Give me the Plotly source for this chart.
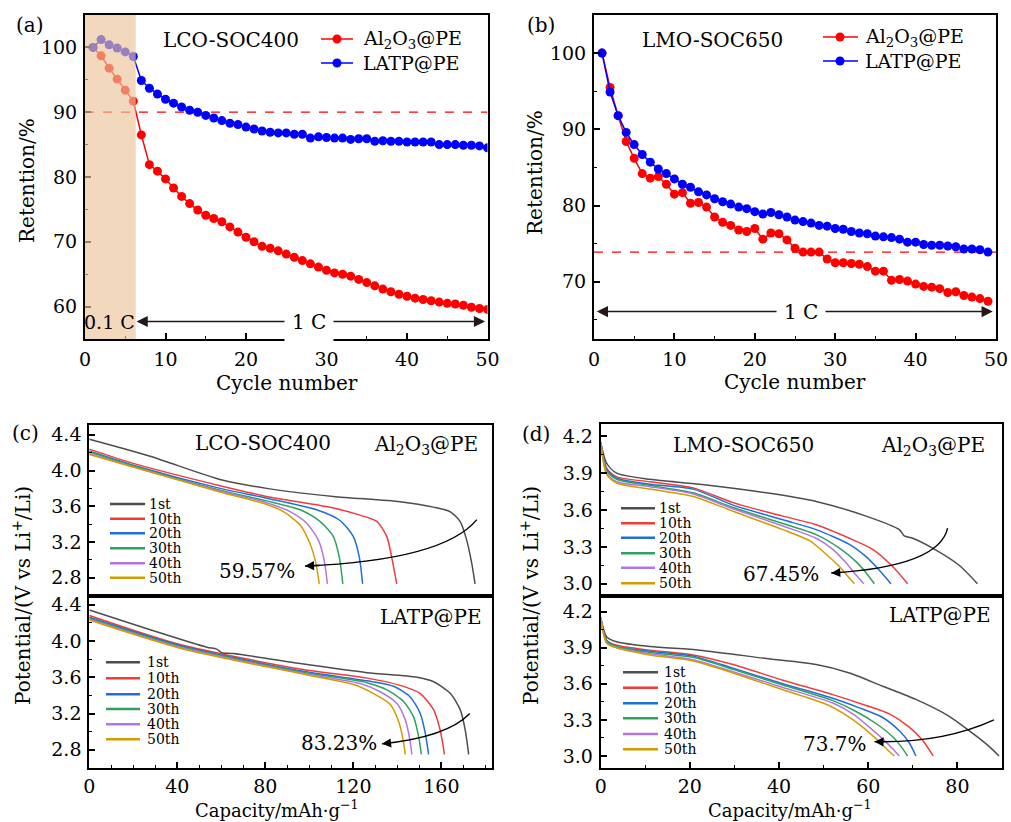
import plotly.graph_objects as go

W, H = 1011, 822
FONT = "DejaVu Serif"

# ---------------- data: panel (a) LCO-SOC400 retention ----------------
cycles_a = list(range(1, 51))
ret_a_al2o3 = [100.0, 98.7, 96.8, 95.1, 93.4, 91.7, 86.5, 81.9, 80.9, 79.7,
               78.3, 77.0, 75.9, 74.9, 74.1, 73.6, 73.1, 72.3, 71.5, 70.7,
               70.0, 69.3, 69.0, 68.6, 68.1, 67.6, 67.1, 66.6, 66.1, 65.6,
               65.2, 65.0, 64.7, 64.2, 63.7, 63.2, 62.7, 62.3, 61.9, 61.6,
               61.3, 61.1, 60.9, 60.7, 60.5, 60.4, 60.2, 59.9, 59.7, 59.57]
ret_a_latp = [100.0, 101.2, 100.4, 99.9, 99.3, 98.6, 94.9, 93.7, 92.8, 92.0,
              91.4, 90.8, 90.3, 90.0, 89.5, 89.1, 88.7, 88.3, 88.1, 87.7,
              87.4, 87.1, 86.9, 86.8, 86.8, 86.6, 86.6, 86.0, 86.2, 86.1,
              86.0, 86.0, 85.8, 85.9, 85.9, 85.5, 85.6, 85.5, 85.5, 85.4,
              85.4, 85.4, 85.4, 85.0, 85.0, 85.0, 84.9, 84.9, 84.8, 84.5]
ref_a = 90.0
slow_rate_end_a = 6.3

# ---------------- data: panel (b) LMO-SOC650 retention ----------------
cycles_b = list(range(1, 50))
ret_b_al2o3 = [100.0, 95.5, 91.8, 88.4, 86.2, 84.2, 83.6, 83.8, 82.8, 81.5,
               81.7, 80.3, 80.4, 79.8, 78.5, 77.8, 77.4, 76.8, 76.6, 77.0,
               75.6, 76.4, 76.3, 75.5, 74.4, 73.9, 73.9, 73.9, 73.0, 72.5,
               72.5, 72.4, 72.3, 72.0, 71.4, 71.4, 70.2, 70.3, 70.1, 69.7,
               69.4, 69.3, 69.1, 68.6, 68.7, 68.2, 68.0, 67.8, 67.45]
ret_b_latp = [100.0, 94.9, 91.8, 89.6, 88.0, 86.7, 85.7, 84.8, 84.2, 83.5,
              82.8, 82.4, 81.8, 81.4, 80.9, 80.5, 80.2, 79.8, 79.6, 79.2,
              78.9, 79.1, 78.8, 78.5, 78.1, 77.9, 77.7, 77.4, 77.3, 77.0,
              76.9, 76.6, 76.4, 76.3, 76.0, 75.9, 75.8, 75.6, 75.2, 75.2,
              74.9, 74.8, 74.8, 74.7, 74.6, 74.3, 74.3, 74.2, 73.9]
ref_b = 73.9

# ---------------- data: discharge curves ----------------
cycle_labels = ["1st", "10th", "20th", "30th", "40th", "50th"]
cycle_colors = ["#4d4d4d", "#f03c3c", "#1f6fd8", "#2ea05f", "#b077e0", "#d49b00"]

# (c) LCO, Al2O3@PE
c_al_cap = {
    "1st":  [0, 27.6, 59.4, 80.6, 110.9, 141.2, 156.4, 163.9, 168.5, 171.5, 173.8, 175.3],
    "10th": [0, 20, 59.4, 80.6, 110.9, 123.0, 130.6, 135.2, 137.4, 139.7],
    "20th": [0, 20, 59.4, 80.6, 103.3, 113.9, 120.0, 122.7, 124.2],
    "30th": [0, 20, 59.4, 80.6, 95.8, 104.8, 110.9, 113.6, 115.2],
    "40th": [0, 20, 59.4, 80.6, 91.2, 98.8, 104.1, 106.7, 108.2],
    "50th": [0, 20, 59.4, 80.6, 88.2, 95.8, 100.3, 103.0, 104.5],
}
c_al_v = {
    "1st":  [4.35, 4.16, 3.90, 3.80, 3.71, 3.65, 3.59, 3.54, 3.43, 3.22, 2.96, 2.73],
    "10th": [4.24, 4.08, 3.83, 3.71, 3.58, 3.50, 3.43, 3.26, 3.03, 2.73],
    "20th": [4.22, 4.06, 3.80, 3.69, 3.56, 3.44, 3.26, 3.03, 2.73],
    "30th": [4.21, 4.05, 3.78, 3.66, 3.56, 3.43, 3.26, 3.03, 2.73],
    "40th": [4.19, 4.04, 3.77, 3.64, 3.54, 3.41, 3.22, 3.00, 2.73],
    "50th": [4.18, 4.04, 3.76, 3.62, 3.54, 3.39, 3.18, 2.96, 2.73],
}
# (c) LCO, LATP@PE
c_latp_cap = {
    "1st":  [0, 28, 53.4, 57.9, 60.2, 65.5, 95.8, 126.2, 148.9, 156.5, 164.1, 168.6, 170.9, 172.4],
    "10th": [0, 41.2, 95.8, 126.2, 141.3, 150.4, 156.5, 159.5, 161.4],
    "20th": [0, 41.2, 95.8, 126.2, 138.3, 145.9, 150.4, 152.7, 154.2],
    "30th": [0, 41.2, 95.8, 126.2, 135.3, 142.9, 147.4, 149.7, 150.9],
    "40th": [0, 41.2, 95.8, 123.1, 132.2, 139.8, 143.6, 145.6, 146.6],
    "50th": [0, 41.2, 95.8, 120.1, 129.2, 136.8, 140.6, 142.6, 143.6],
}
c_latp_v = {
    "1st":  [4.34, 4.12, 3.93, 3.91, 3.87, 3.86, 3.75, 3.65, 3.60, 3.55, 3.42, 3.24, 3.01, 2.75],
    "10th": [4.28, 3.96, 3.69, 3.59, 3.51, 3.42, 3.24, 3.01, 2.75],
    "20th": [4.26, 3.95, 3.67, 3.56, 3.50, 3.38, 3.20, 2.98, 2.75],
    "30th": [4.25, 3.94, 3.66, 3.54, 3.46, 3.33, 3.16, 2.94, 2.75],
    "40th": [4.24, 3.93, 3.65, 3.53, 3.44, 3.31, 3.13, 2.92, 2.75],
    "50th": [4.23, 3.92, 3.64, 3.52, 3.42, 3.30, 3.11, 2.91, 2.75],
}
# (d) LMO, Al2O3@PE
d_al_cap = {
    "1st":  [0, 1.34, 3.58, 11.04, 22.22, 37.14, 48.32, 59.51, 66.97, 68.08, 69.95, 74.42, 80.39, 84.49],
    "10th": [0, 1.34, 3.58, 11.04, 20.73, 29.68, 40.86, 48.32, 55.78, 61.0, 65.47, 68.83],
    "20th": [0, 1.34, 3.58, 11.04, 20.73, 29.68, 40.86, 48.32, 55.78, 59.51, 62.49, 65.1],
    "30th": [0, 1.34, 3.58, 11.04, 20.73, 29.68, 40.86, 48.32, 53.54, 57.27, 59.51, 61.37],
    "40th": [0, 1.34, 3.58, 11.04, 20.73, 29.68, 40.86, 48.32, 52.05, 55.03, 57.27, 58.99],
    "50th": [0, 1.34, 3.58, 11.04, 20.73, 29.68, 40.86, 46.83, 50.56, 53.54, 55.41, 56.9],
}
d_al_v = {
    "1st":  [4.15, 3.98, 3.90, 3.85, 3.81, 3.74, 3.67, 3.55, 3.44, 3.39, 3.37, 3.29, 3.15, 3.00],
    "10th": [4.15, 3.94, 3.87, 3.83, 3.78, 3.66, 3.55, 3.48, 3.37, 3.28, 3.14, 3.00],
    "20th": [4.15, 3.93, 3.86, 3.81, 3.77, 3.64, 3.52, 3.44, 3.32, 3.22, 3.11, 3.00],
    "30th": [4.15, 3.92, 3.85, 3.80, 3.74, 3.62, 3.49, 3.40, 3.29, 3.18, 3.09, 3.00],
    "40th": [4.15, 3.90, 3.83, 3.79, 3.73, 3.61, 3.47, 3.37, 3.28, 3.17, 3.07, 3.00],
    "50th": [4.15, 3.89, 3.82, 3.77, 3.71, 3.59, 3.44, 3.35, 3.24, 3.14, 3.06, 3.00],
}
# (d) LMO, LATP@PE
d_latp_cap = {
    "1st":  [0, 1.34, 3.58, 11.04, 22.22, 37.14, 48.32, 55.78, 63.23, 70.69, 78.15, 83.37, 87.1, 89.34],
    "10th": [0, 1.34, 3.58, 11.04, 20.73, 29.68, 40.86, 52.05, 59.51, 64.73, 69.2, 72.18, 74.57],
    "20th": [0, 1.34, 3.58, 11.04, 20.73, 29.68, 40.86, 52.05, 58.02, 63.23, 66.97, 69.2, 70.69],
    "30th": [0, 1.34, 3.58, 11.04, 20.73, 29.68, 40.86, 52.05, 57.27, 61.74, 65.47, 67.34, 68.83],
    "40th": [0, 1.34, 3.58, 11.04, 20.73, 29.68, 40.86, 52.05, 56.52, 60.25, 63.61, 65.47, 66.97],
    "50th": [0, 1.34, 3.58, 11.04, 20.73, 29.68, 40.86, 50.56, 55.03, 58.76, 62.12, 64.35, 65.85],
}
d_latp_v = {
    "1st":  [4.15, 3.99, 3.95, 3.91, 3.88, 3.81, 3.76, 3.69, 3.58, 3.47, 3.33, 3.19, 3.08, 3.00],
    "10th": [4.15, 3.96, 3.92, 3.88, 3.84, 3.76, 3.63, 3.51, 3.42, 3.35, 3.24, 3.13, 3.00],
    "20th": [4.15, 3.96, 3.91, 3.87, 3.83, 3.73, 3.60, 3.48, 3.40, 3.32, 3.21, 3.11, 3.00],
    "30th": [4.15, 3.95, 3.91, 3.86, 3.82, 3.72, 3.59, 3.46, 3.37, 3.27, 3.16, 3.08, 3.00],
    "40th": [4.15, 3.94, 3.90, 3.85, 3.80, 3.70, 3.57, 3.44, 3.35, 3.24, 3.13, 3.06, 3.00],
    "50th": [4.15, 3.94, 3.90, 3.84, 3.79, 3.69, 3.55, 3.43, 3.34, 3.24, 3.13, 3.05, 3.00],
}

# fade annotations: (start, control, end-tip) in data units, label & label position
fade_c_top = dict(p0=(176.1, 3.45), pc=(160.9, 2.995), p1=(98.0, 2.93), text="59.57%", at=(76.1, 2.875))
fade_c_bot = dict(p0=(172.9, 3.20), pc=(162.6, 2.94), p1=(133.0, 2.866), text="83.23%", at=(113.3, 2.877))
fade_d_top = dict(p0=(77.8, 3.453), pc=(75.9, 3.141), p1=(51.7, 3.087), text="67.45%", at=(40.5, 3.08))
fade_d_bot = dict(p0=(88.2, 3.30), pc=(76.7, 3.105), p1=(61.4, 3.119), text="73.7%", at=(52.6, 3.10))

# ---------------- helpers ----------------
def X(px):
    return px / W


def Y(py):
    return 1 - py / H


def F(size):
    return dict(family=FONT, size=size, color="black")


fig = go.Figure()
shapes = []
annotations = []

RED, BLUE = "#ff0000", "#0000ff"

# panel (a)
fig.add_trace(go.Scatter(x=cycles_a, y=ret_a_al2o3, mode="lines+markers", xaxis="x", yaxis="y",
                         line=dict(color=RED, width=1.5), marker=dict(size=9, color=RED), showlegend=False))
fig.add_trace(go.Scatter(x=cycles_a, y=ret_a_latp, mode="lines+markers", xaxis="x", yaxis="y",
                         line=dict(color=BLUE, width=1.5), marker=dict(size=9, color=BLUE), showlegend=False))
# panel (b)
fig.add_trace(go.Scatter(x=cycles_b, y=ret_b_al2o3, mode="lines+markers", xaxis="x2", yaxis="y2",
                         line=dict(color=RED, width=1.5), marker=dict(size=9, color=RED), showlegend=False))
fig.add_trace(go.Scatter(x=cycles_b, y=ret_b_latp, mode="lines+markers", xaxis="x2", yaxis="y2",
                         line=dict(color=BLUE, width=1.5), marker=dict(size=9, color=BLUE), showlegend=False))

# discharge curves
for caps, vs, xa, ya in [(c_al_cap, c_al_v, "x3", "y3"), (c_latp_cap, c_latp_v, "x4", "y4"),
                         (d_al_cap, d_al_v, "x5", "y5"), (d_latp_cap, d_latp_v, "x6", "y6")]:
    for lab, col in zip(cycle_labels, cycle_colors):
        fig.add_trace(go.Scatter(x=caps[lab], y=vs[lab], mode="lines", xaxis=xa, yaxis=ya,
                                 line=dict(color=col, width=1.5, shape="spline", smoothing=0.7),
                                 showlegend=False))

# reference dashed lines
shapes.append(dict(type="line", xref="x", yref="y", x0=0, x1=50, y0=ref_a, y1=ref_a,
                   line=dict(color=RED, width=1.3, dash="dash"), layer="below"))
shapes.append(dict(type="line", xref="x2", yref="y2", x0=0, x1=50, y0=ref_b, y1=ref_b,
                   line=dict(color=RED, width=1.3, dash="dash"), layer="below"))
# shaded 0.1C region in (a)
shapes.append(dict(type="rect", xref="x", yref="y", x0=0, x1=slow_rate_end_a, y0=55, y1=105,
                   fillcolor="rgb(235,197,155)", opacity=0.65, line=dict(width=0), layer="above"))

# curved fade arrows
for f, xa, ya in [(fade_c_top, "x3", "y3"), (fade_c_bot, "x4", "y4"),
                  (fade_d_top, "x5", "y5"), (fade_d_bot, "x6", "y6")]:
    (x0, y0), (cx, cy), (x1, y1) = f["p0"], f["pc"], f["p1"]
    shapes.append(dict(type="path", xref=xa, yref=ya,
                       path=f"M {x0},{y0} Q {cx},{cy} {x1},{y1}",
                       line=dict(color="black", width=1.4)))
    annotations.append(dict(xref=xa, yref=ya, axref=xa, ayref=ya, x=x1, y=y1,
                            ax=x1 + 0.12 * (cx - x1), ay=y1 + 0.12 * (cy - y1),
                            showarrow=True, arrowhead=2, arrowsize=1.3, arrowwidth=1.4,
                            arrowcolor="black", text=" ", font=F(2)))
    annotations.append(dict(xref=xa, yref=ya, x=f["at"][0], y=f["at"][1], text=f["text"],
                            showarrow=False, font=F(20)))

# 1 C arrows
ARROWC = "#231815"
for xa, ya, yv, left, right, mid in [("x", "y", 57.7, 6.4, 49.7, 27.8), ("x2", "y2", 66.1, 0.35, 49.6, 25.8)]:
    for tip in (left, right):
        annotations.append(dict(xref=xa, yref=ya, axref=xa, ayref=ya, x=tip, y=yv, ax=mid, ay=yv,
                                showarrow=True, arrowhead=2, arrowsize=1.4, arrowwidth=1.6,
                                arrowcolor=ARROWC, text=" ", font=F(2)))
    annotations.append(dict(xref=xa, yref=ya, x=mid, y=yv, text="1 C", showarrow=False,
                            bgcolor="white", borderpad=7, font=F(20)))
annotations.append(dict(xref="x", yref="y", x=3.1, y=57.7, text="0.1 C", showarrow=False,
                        font=F(19)))


# panel labels, sample names, axis titles
def txt(xp, yp, t, size=20, xanchor="center", angle=0):
    annotations.append(dict(xref="paper", yref="paper", x=X(xp), y=Y(yp), text=t, showarrow=False,
                            xanchor=xanchor, yanchor="middle", font=F(size), textangle=angle))


txt(30, 25, "(a)")
txt(541, 25, "(b)")
txt(25, 433, "(c)")
txt(536, 434, "(d)")
txt(231, 40, "LCO-SOC400")
txt(712, 40, "LMO-SOC650")
txt(263, 443, "LCO-SOC400")
txt(480, 445, "Al<sub>2</sub>O<sub>3</sub>@PE", xanchor="right")
txt(483, 617, "LATP@PE", xanchor="right")
txt(743, 445, "LMO-SOC650")
txt(987, 446, "Al<sub>2</sub>O<sub>3</sub>@PE", xanchor="right")
txt(992, 615, "LATP@PE", xanchor="right")

txt(287, 383, "Cycle number")
txt(795, 382, "Cycle number")
txt(27, 181, "Retention/%", angle=-90)
txt(535, 173, "Retention/%", angle=-90)
txt(277, 809, "Capacity/mAh·g<sup>−1</sup>", size=18)
txt(790, 809, "Capacity/mAh·g<sup>−1</sup>", size=18)
txt(22, 596, "Potential/(V vs Li<sup>+</sup>/Li)", angle=-90)
txt(530, 596, "Potential/(V vs Li<sup>+</sup>/Li)", angle=-90)

# legends of (a) and (b)
for lx0, lx1, mx, tx, rows in [(321, 353, 337, 361, (39, 63)), (823, 858, 840, 863, (37, 61))]:
    for py, lab, col in zip(rows, ["Al<sub>2</sub>O<sub>3</sub>@PE", "LATP@PE"], [RED, BLUE]):
        shapes.append(dict(type="line", xref="paper", yref="paper", x0=X(lx0), x1=X(lx1),
                           y0=Y(py), y1=Y(py), line=dict(color=col, width=1.5)))
        shapes.append(dict(type="circle", xref="paper", yref="paper", xsizemode="pixel",
                           ysizemode="pixel", xanchor=X(mx), yanchor=Y(py), x0=-4.5, x1=4.5,
                           y0=-4.5, y1=4.5, fillcolor=col, line=dict(color=col, width=0)))
        txt(tx, py, lab, size=19, xanchor="left")

# legends of (c) and (d)
for lx0, lx1, tx, rows in [(110, 145, 147, (504, 518.7, 533.3, 548.3, 563.3, 577.7)),
                           (106, 140, 145, (662.3, 678.3, 694.3, 709, 724.3, 739.3)),
                           (621, 655, 657, (508.3, 523.3, 537.7, 553.3, 567.7, 583.3)),
                           (623, 658, 662, (672.3, 687.7, 703.3, 718.3, 734, 749.3))]:
    for py, lab, col in zip(rows, cycle_labels, cycle_colors):
        shapes.append(dict(type="line", xref="paper", yref="paper", x0=X(lx0), x1=X(lx1),
                           y0=Y(py), y1=Y(py), line=dict(color=col, width=2.5)))
        txt(tx, py, lab, size=14, xanchor="left")


# ---------------- axes ----------------
def axis(domain, rng, dtick, tick0, minor, anchor, labels=True, fmt=None, standoff=2):
    d = dict(domain=domain, range=rng, dtick=dtick, tick0=tick0, anchor=anchor,
             showline=True, linecolor="black", linewidth=2, mirror=True,
             ticks="inside", ticklen=6, tickwidth=1.5, tickcolor="black",
             minor=dict(dtick=minor, ticks="inside", ticklen=3, tickwidth=1.2, tickcolor="black"),
             showgrid=False, zeroline=False, showticklabels=labels, automargin=False,
             tickfont=F(19), ticklabelstandoff=standoff)
    if fmt:
        d["tickformat"] = fmt
    return d


yt = [Y(339), Y(15)]
fig.update_layout(
    xaxis=axis([X(85), X(487.5)], [0, 50], 10, 0, 5, "y"),
    yaxis=axis(yt, [55, 105], 10, 0, 5, "x"),
    xaxis2=axis([X(594), X(996)], [0, 50], 10, 0, 5, "y2"),
    yaxis2=axis(yt, [62.5, 105], 10, 0, 5, "x2"),
    xaxis3=axis([X(89.3), X(492)], [0, 183], 40, 0, 10, "y3", labels=False),
    yaxis3=axis([Y(595.5), Y(425)], [2.6, 4.51], 0.4, 2.8, 0.2, "x3", fmt=".1f"),
    xaxis4=axis([X(89.3), X(492)], [0, 183], 40, 0, 10, "y4", standoff=0),
    yaxis4=axis([Y(768), Y(595.5)], [2.6, 4.5], 0.4, 2.8, 0.2, "x4", fmt=".1f"),
    xaxis5=axis([X(600.7), X(1002)], [0, 90], 20, 0, 10, "y5", labels=False),
    yaxis5=axis([Y(596), Y(424)], [2.9, 4.3], 0.3, 3.0, 0.15, "x5", fmt=".1f"),
    xaxis6=axis([X(600.7), X(1002)], [0, 90], 20, 0, 10, "y6", standoff=0),
    yaxis6=axis([Y(768), Y(596)], [2.9, 4.33], 0.3, 3.0, 0.15, "x6", fmt=".1f"),
)
fig.layout.xaxis3.ticks = ""
fig.layout.xaxis3.minor.ticks = ""
fig.layout.xaxis5.ticks = ""
fig.layout.xaxis5.minor.ticks = ""

fig.update_layout(
    width=W, height=H, margin=dict(l=0, r=0, t=0, b=0),
    paper_bgcolor="white", plot_bgcolor="white",
    font=F(19),
    showlegend=False, shapes=shapes, annotations=annotations,
)

fig.write_html("out.html")
